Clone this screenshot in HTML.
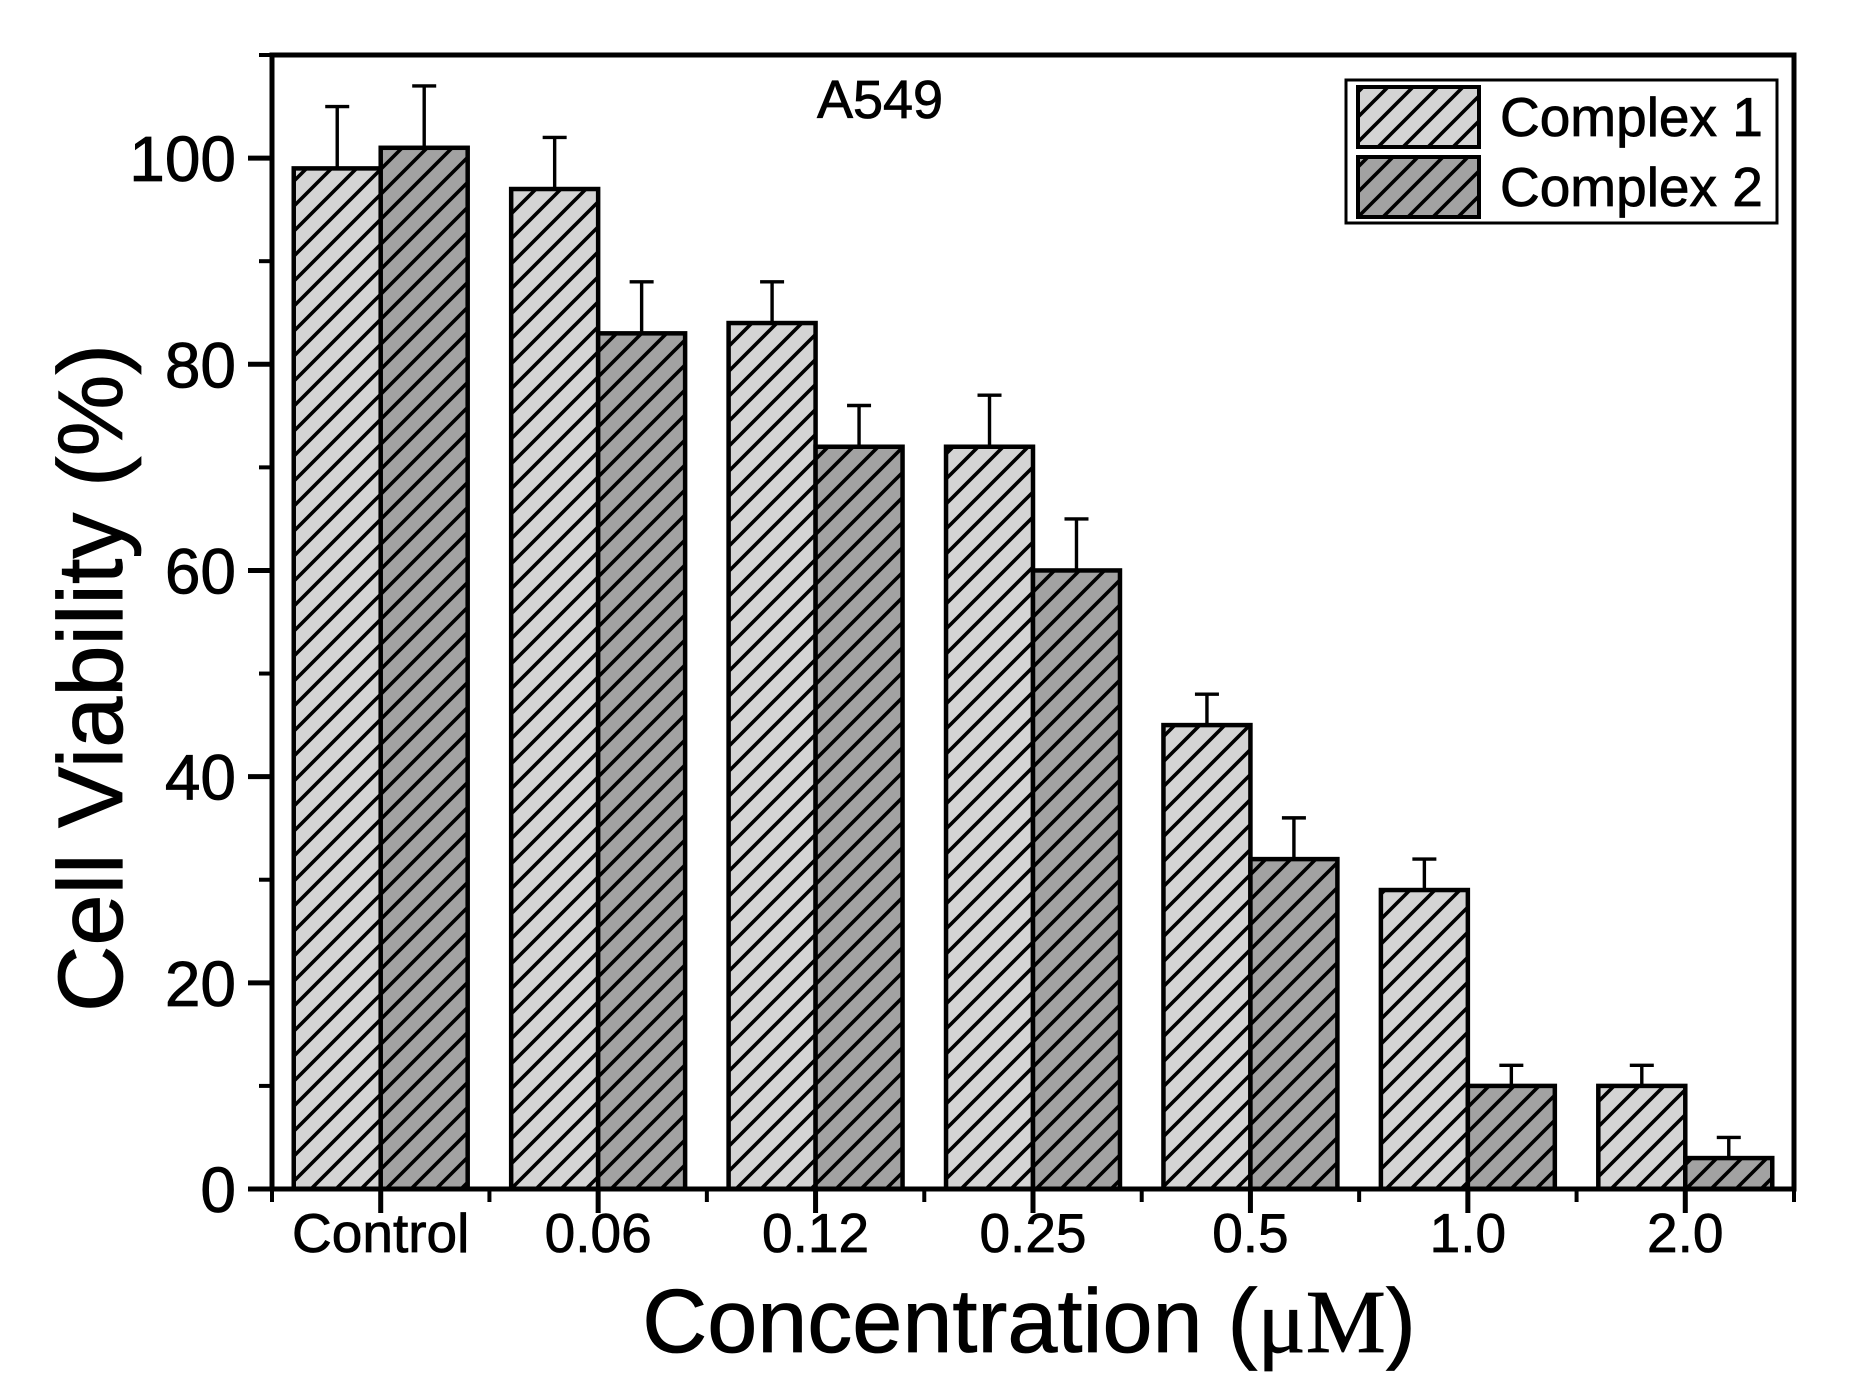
<!DOCTYPE html>
<html><head><meta charset="utf-8"><style>
html,body{margin:0;padding:0;background:#fff}
svg{display:block}
text{font-family:"Liberation Sans",Arial,sans-serif;fill:#000;stroke:#000;stroke-width:0.8}
</style></head><body>
<svg id="chart" width="1849" height="1389" viewBox="0 0 1849 1389" xmlns="http://www.w3.org/2000/svg">
<defs>
<pattern id="hatch1" patternUnits="userSpaceOnUse" width="25" height="25">
<rect width="25" height="25" fill="#d4d4d4"/>
<path d="M-5,5 L5,-5 M0,25 L25,0 M20,30 L30,20" stroke="#000" stroke-width="3.6"/>
</pattern>
<pattern id="hatch2" patternUnits="userSpaceOnUse" width="25" height="25">
<rect width="25" height="25" fill="#a2a2a2"/>
<path d="M-5,5 L5,-5 M0,25 L25,0 M20,30 L30,20" stroke="#000" stroke-width="3.6"/>
</pattern>
</defs>
<g id="plot"></g>
</svg>
<script>
const categories = ["Control","0.06","0.12","0.25","0.5","1.0","2.0"];
const complex1 = [99,97,84,72,45,29,10];
const complex1Err = [6,5,4,5,3,3,2];
const complex2 = [101,83,72,60,32,10,3];
const complex2Err = [6,5,4,5,4,2,2];
const yTicks = [0,20,40,60,80,100];
const yMinor = [10,30,50,70,90,110];

const NS="http://www.w3.org/2000/svg";
const g=document.getElementById('plot');
const L=272,R=1794,T=55,B=1189,YMAX=110;
const xs=i=>L+(i+0.5)*(R-L)/categories.length;
const ys=v=>B-v*(B-T)/YMAX;
const bw=(R-L)/categories.length*0.4;
function mk(tag,attrs,parent){const e=document.createElementNS(NS,tag);for(const k in attrs)e.setAttribute(k,attrs[k]);(parent||g).appendChild(e);return e;}

const series=[[complex1,complex1Err,'url(#hatch1)','complex-1'],[complex2,complex2Err,'url(#hatch2)','complex-2']];
series.forEach((s,si)=>{
  s[0].forEach((v,i)=>{
    const x0=xs(i)-bw+si*bw;
    const cx=x0+bw/2;
    const e=mk('path',{d:`M${cx},${ys(v)} V${ys(v+s[1][i])} M${cx-12},${ys(v+s[1][i])} H${cx+12}`,stroke:'#000','stroke-width':3.4,fill:'none'});
    
    
    const r=mk('rect',{x:x0,y:ys(v),width:bw,height:B-ys(v),fill:s[2],stroke:'#000','stroke-width':4.5});
    
    
  });
});

const ax=mk('path',{d:`M${L},${T} H${R} V${B} H${L} Z`,fill:'none',stroke:'#000','stroke-width':5});



yTicks.forEach(v=>{
  const t=mk('line',{x1:L-24,x2:L,y1:ys(v),y2:ys(v),stroke:'#000','stroke-width':5});
  
  
  const lb=mk('text',{x:L-36,y:ys(v)+23,'text-anchor':'end','font-size':64});
  lb.textContent=v;
  
  
});
yMinor.forEach(v=>{
  const t=mk('line',{x1:L-13,x2:L,y1:ys(v),y2:ys(v),stroke:'#000','stroke-width':4});
  
  
});
categories.forEach((c,i)=>{
  const t=mk('line',{x1:xs(i),x2:xs(i),y1:B,y2:B+24,stroke:'#000','stroke-width':5});
  
  
  const lb=mk('text',{x:xs(i),y:B+63,'text-anchor':'middle','font-size':55});
  lb.textContent=c;
  
  
});
for(let i=0;i<=categories.length;i++){
  const x=L+i*(R-L)/categories.length;
  const t=mk('line',{x1:x,x2:x,y1:B,y2:B+13,stroke:'#000','stroke-width':4});
  
  
}
</script>
<script>
(function(){
const NS="http://www.w3.org/2000/svg";
const svg=document.getElementById('chart');
function mk(tag,attrs){const e=document.createElementNS(NS,tag);for(const k in attrs)e.setAttribute(k,attrs[k]);svg.appendChild(e);return e;}
let t=mk('text',{x:880,y:118,'text-anchor':'middle','font-size':54});
t.textContent='A549';



t=mk('text',{x:0,y:0,'text-anchor':'middle','font-size':92,transform:'translate(122,678) rotate(-90)'});
t.textContent='Cell Viability (%)';



t=mk('text',{x:1029,y:1352,'text-anchor':'middle','font-size':90});
t.innerHTML='Concentration (<tspan style="font-family:\'Liberation Serif\',serif">μM</tspan>)';



let b=mk('rect',{x:1346,y:80,width:431,height:143,fill:'#fff',stroke:'#000','stroke-width':3});


[['url(#hatch1)','Complex 1',87],['url(#hatch2)','Complex 2',157]].forEach(([f,l,y])=>{
  const s=mk('rect',{x:1358,y:y,width:121,height:60,fill:f,stroke:'#000','stroke-width':4});
  
  
  const tx=mk('text',{x:1500,y:y+49,'font-size':55});
  tx.textContent=l;
  
  
});
})();
</script>
</body></html>
